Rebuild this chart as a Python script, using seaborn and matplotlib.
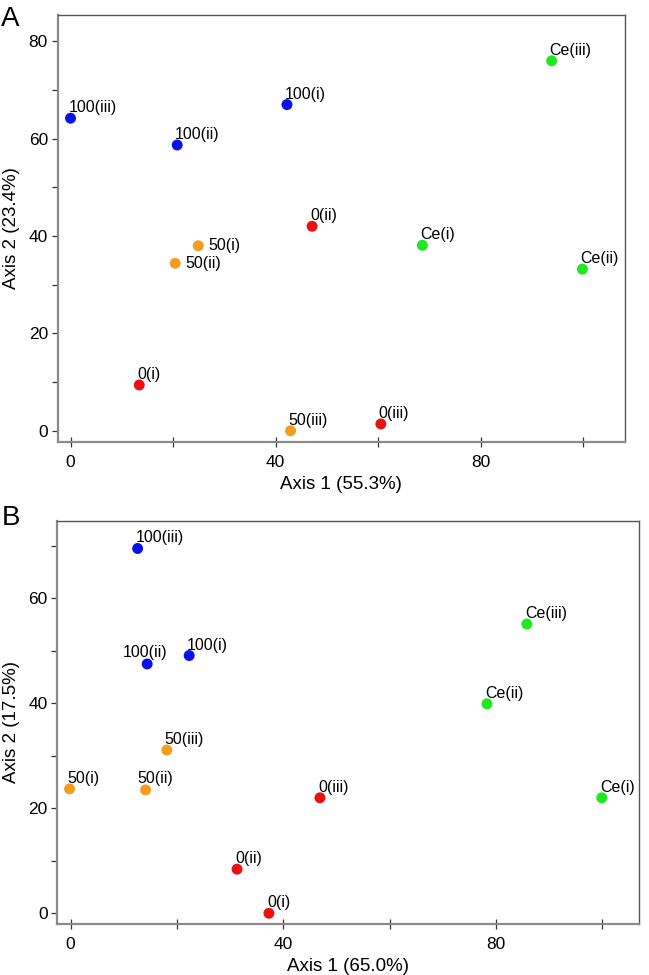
import matplotlib
matplotlib.use("Agg")
import matplotlib.pyplot as plt
import seaborn as sns
import pandas as pd

sns.set_style("white")
plt.rcParams['font.family'] = ['Liberation Sans', 'DejaVu Sans']
plt.rcParams['text.color'] = 'black'
plt.rcParams['axes.labelcolor'] = 'black'
plt.rcParams['xtick.color'] = 'black'
plt.rcParams['ytick.color'] = 'black'

# ---- data: panel A ----
a_labels = ["100(i)", "100(ii)", "100(iii)", "50(i)", "50(ii)", "50(iii)",
            "0(i)", "0(ii)", "0(iii)", "Ce(i)", "Ce(ii)", "Ce(iii)"]
a_group = ["100", "100", "100", "50", "50", "50", "0", "0", "0", "Ce", "Ce", "Ce"]
a_x = [42.2, 20.8, 0.0, 24.9, 20.4, 42.9, 13.4, 47.1, 60.5, 68.6, 99.8, 93.8]
a_y = [67.0, 58.7, 64.2, 38.0, 34.4, 0.0, 9.4, 42.0, 1.4, 38.1, 33.2, 76.0]

# ---- data: panel B ----
b_labels = ["100(i)", "100(ii)", "100(iii)", "50(i)", "50(ii)", "50(iii)",
            "0(i)", "0(ii)", "0(iii)", "Ce(i)", "Ce(ii)", "Ce(iii)"]
b_group = ["100", "100", "100", "50", "50", "50", "0", "0", "0", "Ce", "Ce", "Ce"]
b_x = [22.3, 14.4, 12.6, -0.2, 14.1, 18.1, 37.3, 31.3, 46.9, 99.9, 78.3, 85.8]
b_y = [49.1, 47.5, 69.5, 23.7, 23.5, 31.1, 0.0, 8.4, 22.0, 22.0, 39.9, 55.1]

a_xlabel = "Axis 1 (55.3%)"
a_ylabel = "Axis 2 (23.4%)"
b_xlabel = "Axis 1 (65.0%)"
b_ylabel = "Axis 2 (17.5%)"

palette = {"100": "#0a10ee", "50": "#f69c1c", "0": "#ee1010", "Ce": "#1ee81e"}

# label offsets (pixels) and alignment per panel
a_off = {"50(i)": (10, 0, "center"), "50(ii)": (10, 0, "center")}
b_off = {"100(ii)": (-24, 7, "baseline"), "50(ii)": (-8, 7, "baseline")}

fig = plt.figure(figsize=(6.49, 9.75), dpi=100)
axA = fig.add_axes([0.0889, 0.5467, 0.963 - 0.0889, 0.9846 - 0.5467])
axB = fig.add_axes([0.0883, 0.052, 0.9846 - 0.0883, 0.4660 - 0.052])


def draw(ax, labels, groups, xs, ys, xlabel, ylabel, xlim, ylim, yticks, ymin, offs):
    df = pd.DataFrame({"x": xs, "y": ys, "g": groups, "lab": labels})
    sns.scatterplot(data=df, x="x", y="y", hue="g", palette=palette, s=62,
                    edgecolor="none", legend=False, ax=ax, zorder=3)
    for lab, x, y in zip(labels, xs, ys):
        dx, dy, va = offs.get(lab, (-2, 6, "baseline"))
        ax.annotate(lab, (x, y), xytext=(dx, dy), textcoords="offset pixels",
                    ha="left", va=va, fontsize=11.5, color="black")
    ax.set_xlim(*xlim)
    ax.set_ylim(*ylim)
    ax.set_xticks([0, 40, 80])
    ax.set_xticks([20, 60, 100], minor=True)
    ax.set_yticks(yticks)
    ax.set_yticks(ymin, minor=True)
    ax.set_xlabel(xlabel, fontsize=13.5, labelpad=4, color="black")
    ax.set_ylabel(ylabel, fontsize=13.5, labelpad=6, color="black")
    ax.tick_params(axis="both", which="both", labelsize=12.5, color="#333333",
                   labelcolor="black", width=0.9, bottom=True, left=True,
                   top=False, right=False)
    ax.tick_params(axis="x", which="both", direction="inout", length=7, pad=6)
    ax.tick_params(axis="y", which="both", direction="out", length=4, pad=3)
    for side in ["left", "bottom"]:
        ax.spines[side].set_color("#8a8a8a")
        ax.spines[side].set_linewidth(1.6)
    for side in ["top", "right"]:
        ax.spines[side].set_color("#555555")
        ax.spines[side].set_linewidth(1.0)
        ax.spines[side].set_visible(True)


draw(axA, a_labels, a_group, a_x, a_y, a_xlabel, a_ylabel,
     (-2.5, 108.1), (-2.3, 85.4), [0, 20, 40, 60, 80], [10, 30, 50, 70], a_off)
draw(axB, b_labels, b_group, b_x, b_y, b_xlabel, b_ylabel,
     (-2.5, 106.9), (-2.1, 74.8), [0, 20, 40, 60], [10, 30, 50, 70], b_off)

fig.text(0.002, 0.994, "A", fontsize=20, va="top", ha="left")
fig.text(0.002, 0.482, "B", fontsize=20, va="top", ha="left")

fig.savefig("out.png", dpi=100)
